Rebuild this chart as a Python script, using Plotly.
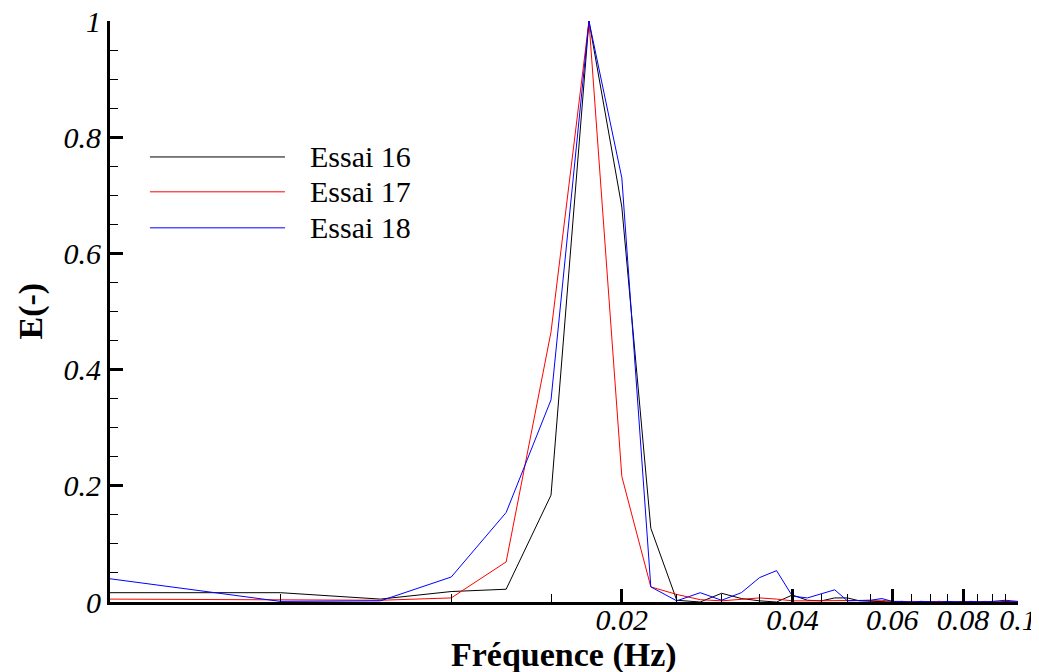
import plotly.graph_objects as go

freq = [0.0025, 0.005, 0.0075, 0.01, 0.0125, 0.015, 0.0175, 0.02, 0.0225, 0.025,
        0.0275, 0.03, 0.0325, 0.035, 0.0375, 0.04, 0.0425, 0.045, 0.0475, 0.05,
        0.0525, 0.055, 0.0575, 0.06, 0.0625, 0.065, 0.0675, 0.07, 0.0725, 0.075,
        0.0775, 0.08, 0.0825, 0.085, 0.0875, 0.09, 0.0925, 0.095, 0.0975, 0.1]

essai16 = [0.016, 0.016, 0.005, 0.018, 0.022, 0.184, 1.0, 0.68, 0.127, 0.003,
           0.000, 0.015, 0.006, 0.002, 0.000, 0.012, 0.003, 0.002, 0.007, 0.007,
           0.002, 0.001, 0.001, 0.000, 0.001, 0.000, 0.001, 0.000, 0.001, 0.000,
           0.000, 0.001, 0.000, 0.000, 0.001, 0.000, 0.000, 0.001, 0.000, 0.000]

essai17 = [0.005, 0.004, 0.003, 0.007, 0.069, 0.465, 1.0, 0.216, 0.026, 0.013,
           0.004, 0.002, 0.005, 0.007, 0.005, 0.002, 0.002, 0.002, 0.003, 0.002,
           0.002, 0.003, 0.003, 0.001, 0.000, 0.001, 0.000, 0.000, 0.001, 0.000,
           0.000, 0.000, 0.001, 0.000, 0.000, 0.000, 0.001, 0.000, 0.000, 0.000]

essai18 = [0.040, 0.001, 0.002, 0.043, 0.154, 0.348, 1.0, 0.730, 0.026, 0.002,
           0.016, 0.003, 0.016, 0.042, 0.054, 0.010, 0.007, 0.014, 0.021, 0.002,
           0.002, 0.003, 0.006, 0.001, 0.001, 0.000, 0.001, 0.000, 0.000, 0.001,
           0.000, 0.000, 0.001, 0.000, 0.000, 0.001, 0.002, 0.003, 0.002, 0.001]

names = ["Essai 16", "Essai 17", "Essai 18"]
colors = ["#000000", "#ff0000", "#0000ff"]
series = [essai16, essai17, essai18]

x_major = [0.02, 0.04, 0.06, 0.08, 0.1]
x_major_text = ["0.02", "0.04", "0.06", "0.08", "0.1"]
x_minor = [0.005, 0.01, 0.015, 0.025, 0.03, 0.035, 0.045, 0.05, 0.055,
           0.065, 0.07, 0.075, 0.085, 0.09, 0.095]
y_major = [0, 0.2, 0.4, 0.6, 0.8, 1]
y_major_text = ["0", "0.2", "0.4", "0.6", "0.8", "1"]

SERIF = "Liberation Serif, Times New Roman, serif"

fig = go.Figure()
for name, col, vals in zip(names, colors, series):
    fig.add_trace(go.Scatter(x=freq, y=vals, mode="lines", name=name,
                             line=dict(color=col, width=1), showlegend=False,
                             cliponaxis=False))

# manual legend (long line samples like the reference)
leg_y = [0.766, 0.706, 0.644]
for name, col, yy in zip(names, colors, leg_y):
    fig.add_shape(type="line", xref="paper", yref="paper", x0=0.044, x1=0.1927,
                  y0=yy, y1=yy, line=dict(color=col, width=1))
    fig.add_annotation(xref="paper", yref="paper", x=0.218, y=yy, text=name,
                       showarrow=False, xanchor="left", yanchor="middle",
                       font=dict(family=SERIF, size=30, color="black"))

# axis titles
fig.add_annotation(xref="paper", yref="paper", x=0.5, y=-0.0912,
                   text="<b>Fréquence (Hz)</b>", showarrow=False,
                   xanchor="center", yanchor="middle",
                   font=dict(family=SERIF, size=34, color="black"))
fig.add_annotation(xref="paper", yref="paper", x=-0.0881, y=0.5,
                   text="<b>E(-)</b>", showarrow=False, textangle=-90,
                   xanchor="center", yanchor="middle",
                   font=dict(family=SERIF, size=34, color="black"))

# the page body adds an 8px margin, so the figure is 8px smaller and shifted
fig.update_layout(
    width=1031, height=664,
    margin=dict(l=102, r=21, t=13, b=70, autoexpand=False),
    paper_bgcolor="white", plot_bgcolor="white",
    font=dict(family=SERIF, color="black"),
)

fig.update_xaxes(
    type="log", range=[-2.60206, -0.99995], automargin=False,
    showgrid=False, zeroline=False,
    showline=True, linecolor="black", linewidth=3,
    ticks="inside", ticklen=13, tickwidth=3, tickcolor="black",
    tickmode="array", tickvals=x_major, ticktext=x_major_text,
    tickfont=dict(family=SERIF, size=30, style="italic"),
    ticklabelstandoff=-11, ticklabeloverflow="allow",
    minor=dict(tickmode="array", tickvals=x_minor, ticks="inside",
               ticklen=8, tickwidth=1, tickcolor="black", showgrid=False),
)

fig.update_yaxes(
    range=[0, 1.0001], automargin=False,
    showgrid=False, zeroline=False,
    showline=True, linecolor="black", linewidth=3,
    ticks="inside", ticklen=13, tickwidth=3, tickcolor="black",
    tickmode="array", tickvals=y_major, ticktext=y_major_text,
    tickfont=dict(family=SERIF, size=30, style="italic"),
    ticklabeloverflow="allow",
    minor=dict(dtick=0.05, tick0=0, ticks="inside", ticklen=8,
               tickwidth=1, tickcolor="black", showgrid=False),
)

fig.write_html("out.html")
